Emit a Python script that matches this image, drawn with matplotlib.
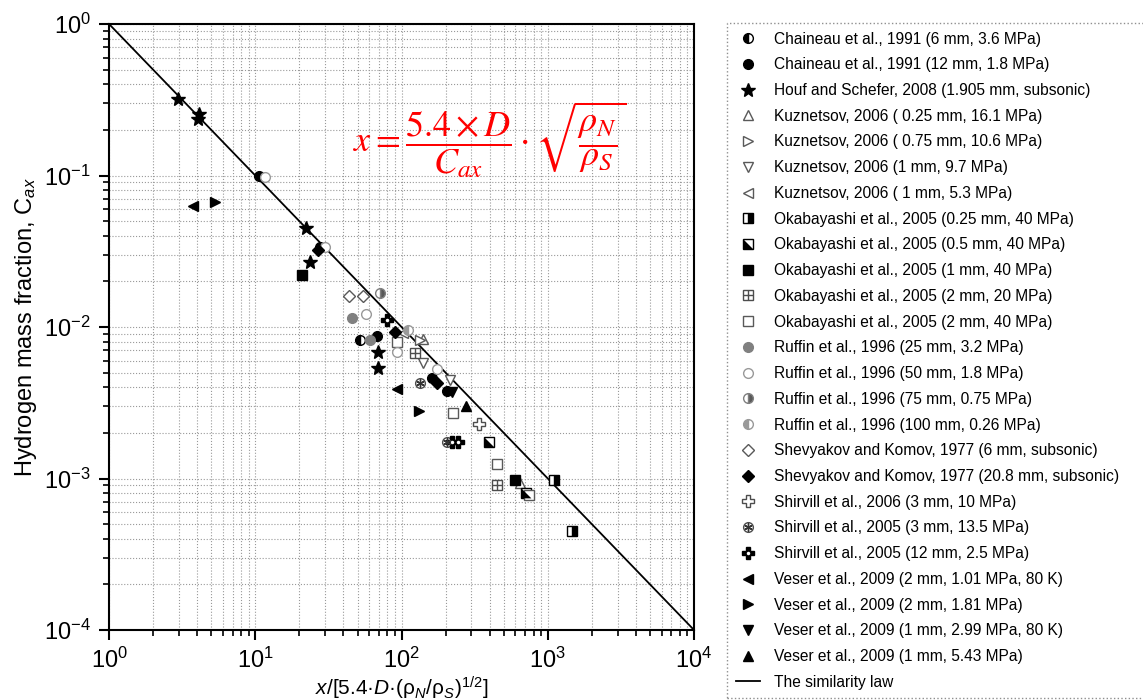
import numpy as np
import matplotlib
matplotlib.use("Agg")
import matplotlib.pyplot as plt
from matplotlib.lines import Line2D

plt.rcParams['font.family'] = ['Liberation Sans', 'DejaVu Sans']
plt.rcParams['mathtext.fontset'] = 'custom'
plt.rcParams['mathtext.rm'] = 'Liberation Sans'
plt.rcParams['mathtext.it'] = 'Liberation Sans:italic'
plt.rcParams['mathtext.bf'] = 'Liberation Sans:bold'

# ---- data ----
chaineau6_x = [27.7, 52]
chaineau6_y = [0.0337, 0.0082]
chaineau12_x = [10.6, 68, 162, 205]
chaineau12_y = [0.099, 0.0087, 0.0046, 0.0038]
houf_x = [2.96, 4.12, 4.06, 22.2, 23.7, 69, 69]
houf_y = [0.32, 0.255, 0.236, 0.045, 0.027, 0.0068, 0.0054]
kuz025_x = [646, 140]
kuz025_y = [0.00093, 0.0083]
kuz075_x = [134]
kuz075_y = [0.0082]
kuz1a_x = [140, 214]
kuz1a_y = [0.0058, 0.0045]
kuz1b_x = [103]
kuz1b_y = [0.0091]
oka025_x = [1104, 1465]
oka025_y = [0.00098, 0.00045]
oka05_x = [396, 710]
oka05_y = [0.00174, 0.0008]
oka1_x = [20.9, 597]
oka1_y = [0.022, 0.00098]
oka2a_x = [124, 450]
oka2a_y = [0.0067, 0.00091]
oka2b_x = [225, 450, 740, 93]
oka2b_y = [0.0027, 0.00125, 0.00078, 0.0080]
ruf25_x = [45.9, 61]
ruf25_y = [0.0115, 0.0082]
ruf50_x = [57, 93, 175, 11.7, 30]
ruf50_y = [0.0122, 0.0068, 0.0053, 0.098, 0.0337]
ruf75_x = [71.3]
ruf75_y = [0.0168]
ruf100_x = [111]
ruf100_y = [0.0095]
shev6_x = [43.8, 54.5]
shev6_y = [0.016, 0.016]
shev208_x = [26.8, 90, 175]
shev208_y = [0.0322, 0.0093, 0.0043]
shir2006_x = [339]
shir2006_y = [0.0023]
shir3_x = [134, 205]
shir3_y = [0.0043, 0.00174]
shir12_x = [79.6, 221, 243]
shir12_y = [0.0111, 0.00174, 0.00174]
veser1_x = [3.75, 93]
veser1_y = [0.063, 0.0039]
veser2_x = [5.3, 132]
veser2_y = [0.067, 0.0028]
veser3_x = [220]
veser3_y = [0.0037]
veser4_x = [276]
veser4_y = [0.0030]
law_x = [1, 1e4]
law_y = [1, 1e-4]

labels = [
    "Chaineau et al., 1991 (6 mm, 3.6 MPa)",
    "Chaineau et al., 1991 (12 mm, 1.8 MPa)",
    "Houf and Schefer, 2008 (1.905 mm, subsonic)",
    "Kuznetsov, 2006 ( 0.25 mm, 16.1 MPa)",
    "Kuznetsov, 2006 ( 0.75 mm, 10.6 MPa)",
    "Kuznetsov, 2006 (1 mm, 9.7 MPa)",
    "Kuznetsov, 2006 ( 1 mm, 5.3 MPa)",
    "Okabayashi et al., 2005 (0.25 mm, 40 MPa)",
    "Okabayashi et al., 2005 (0.5 mm, 40 MPa)",
    "Okabayashi et al., 2005 (1 mm, 40 MPa)",
    "Okabayashi et al., 2005 (2 mm, 20 MPa)",
    "Okabayashi et al., 2005 (2 mm, 40 MPa)",
    "Ruffin et al., 1996 (25 mm, 3.2 MPa)",
    "Ruffin et al., 1996 (50 mm, 1.8 MPa)",
    "Ruffin et al., 1996 (75 mm, 0.75 MPa)",
    "Ruffin et al., 1996 (100 mm, 0.26 MPa)",
    "Shevyakov and Komov, 1977 (6 mm, subsonic)",
    "Shevyakov and Komov, 1977 (20.8 mm, subsonic)",
    "Shirvill et al., 2006 (3 mm, 10 MPa)",
    "Shirvill et al., 2005 (3 mm, 13.5 MPa)",
    "Shirvill et al., 2005 (12 mm, 2.5 MPa)",
    "Veser et al., 2009 (2 mm, 1.01 MPa, 80 K)",
    "Veser et al., 2009 (2 mm, 1.81 MPa)",
    "Veser et al., 2009 (1 mm, 2.99 MPa, 80 K)",
    "Veser et al., 2009 (1 mm, 5.43 MPa)",
    "The similarity law",
]

# ---- figure ----
fig = plt.figure(figsize=(11.43, 7), dpi=100)
ax = fig.add_axes([0.0954, 0.1, 0.5118, 0.8657])
ax.set_xscale('log')
ax.set_yscale('log')
ax.set_xlim(1, 1e4)
ax.set_ylim(1e-4, 1)

ax.grid(True, which='both', linestyle=':', color='0.6', linewidth=0.8)
ax.set_axisbelow(True)

ms = 7
tri = [(-1, -1), (1, -1), (-1, 1)]


def pts(x, y, **kw):
    base = dict(linestyle='none', markersize=ms, markeredgewidth=1.0,
                markeredgecolor='black', zorder=3)
    base.update(kw)
    return ax.plot(x, y, **base)[0]


handles = []
handles.append(pts(chaineau6_x, chaineau6_y, marker='o', fillstyle='left',
                   markerfacecolor='black', markerfacecoloralt='white'))
handles.append(pts(chaineau12_x, chaineau12_y, marker='o', markerfacecolor='black'))
handles.append(pts(houf_x, houf_y, marker='*', markersize=10, markerfacecolor='black'))
handles.append(pts(kuz025_x, kuz025_y, marker='^', markerfacecolor='white', markeredgecolor='0.35'))
handles.append(pts(kuz075_x, kuz075_y, marker='>', markerfacecolor='white', markeredgecolor='0.35'))
handles.append(pts(kuz1a_x, kuz1a_y, marker='v', markerfacecolor='white', markeredgecolor='0.35'))
handles.append(pts(kuz1b_x, kuz1b_y, marker='<', markerfacecolor='white', markeredgecolor='0.35'))
handles.append(pts(oka025_x, oka025_y, marker='s', fillstyle='right',
                   markerfacecolor='black', markerfacecoloralt='white'))
h1 = pts(oka05_x, oka05_y, marker='s', markerfacecolor='white')
h2 = pts(oka05_x, oka05_y, marker=tri, markeredgewidth=0, markerfacecolor='black', zorder=4)
handles.append((h1, h2))
handles.append(pts(oka1_x, oka1_y, marker='s', markerfacecolor='black'))
h1 = pts(oka2a_x, oka2a_y, marker='s', markerfacecolor='white', markeredgecolor='0.3')
h2 = pts(oka2a_x, oka2a_y, marker='+', markeredgecolor='0.3', zorder=4)
handles.append((h1, h2))
handles.append(pts(oka2b_x, oka2b_y, marker='s', markerfacecolor='white', markeredgecolor='0.35'))
handles.append(pts(ruf25_x, ruf25_y, marker='o', markerfacecolor='0.5', markeredgecolor='0.5'))
handles.append(pts(ruf50_x, ruf50_y, marker='o', markerfacecolor='white', markeredgecolor='0.6'))
handles.append(pts(ruf75_x, ruf75_y, marker='o', fillstyle='right', markerfacecolor='0.35',
                   markerfacecoloralt='white', markeredgecolor='0.5'))
handles.append(pts(ruf100_x, ruf100_y, marker='o', fillstyle='left', markerfacecolor='0.6',
                   markerfacecoloralt='white', markeredgecolor='0.6'))
handles.append(pts(shev6_x, shev6_y, marker='D', markersize=6, markerfacecolor='white',
                   markeredgecolor='0.35'))
handles.append(pts(shev208_x, shev208_y, marker='D', markersize=6, markerfacecolor='black'))
handles.append(pts(shir2006_x, shir2006_y, marker='P', markersize=8, markerfacecolor='white',
                   markeredgecolor='0.3'))
h1 = pts(shir3_x, shir3_y, marker='o', markerfacecolor='white', markeredgecolor='0.3')
h2 = pts(shir3_x, shir3_y, marker=(6, 2, 0), markersize=6, markeredgecolor='0.2', zorder=4)
handles.append((h1, h2))
h1 = pts(shir12_x, shir12_y, marker='P', markersize=8, markerfacecolor='black')
h2 = pts(shir12_x, shir12_y, marker='o', markersize=2.5, markeredgewidth=0,
         markerfacecolor='white', zorder=4)
handles.append((h1, h2))
handles.append(pts(veser1_x, veser1_y, marker='<', markerfacecolor='black'))
handles.append(pts(veser2_x, veser2_y, marker='>', markerfacecolor='black'))
handles.append(pts(veser3_x, veser3_y, marker='v', markerfacecolor='black'))
handles.append(pts(veser4_x, veser4_y, marker='^', markerfacecolor='black'))
handles.append(ax.plot(law_x, law_y, color='black', linewidth=1.3, zorder=2)[0])

# formula in red
ax.text(0.65, 0.81, r'$x=\dfrac{5.4\times D}{C_{ax}}\cdot\sqrt{\dfrac{\rho_N}{\rho_S}}$',
        transform=ax.transAxes, ha='center', va='center', color='red',
        fontsize=26, math_fontfamily='stix', zorder=5)

# axes styling
for s in ax.spines.values():
    s.set_linewidth(1.5)
ax.tick_params(which='major', direction='out', length=7, width=1.5, labelsize=17, pad=6)
ax.tick_params(which='minor', direction='out', length=4, width=1.2)
ax.set_xlabel(r'$\it{x}$/[5.4·$\it{D}$·(ρ$_{\it{N}}$/ρ$_{\it{S}}$)$^{1/2}$]', fontsize=15, labelpad=1)
ax.set_ylabel(r'Hydrogen mass fraction, C$_{\it{ax}}$', fontsize=17, labelpad=4)

leg = fig.legend(handles, labels, loc='upper left', mode='expand',
                 bbox_to_anchor=(727 / 1143, 3 / 700, 430 / 1143, 674 / 700),
                 bbox_transform=fig.transFigure,
                 borderaxespad=0, fontsize=11.2, labelspacing=0.69, handlelength=1.6,
                 handletextpad=0.9, borderpad=0.55, fancybox=False, frameon=True)
frame = leg.get_frame()
frame.set_linestyle(':')
frame.set_edgecolor('0.45')
frame.set_linewidth(1.0)

fig.savefig('out.png', dpi=100)
